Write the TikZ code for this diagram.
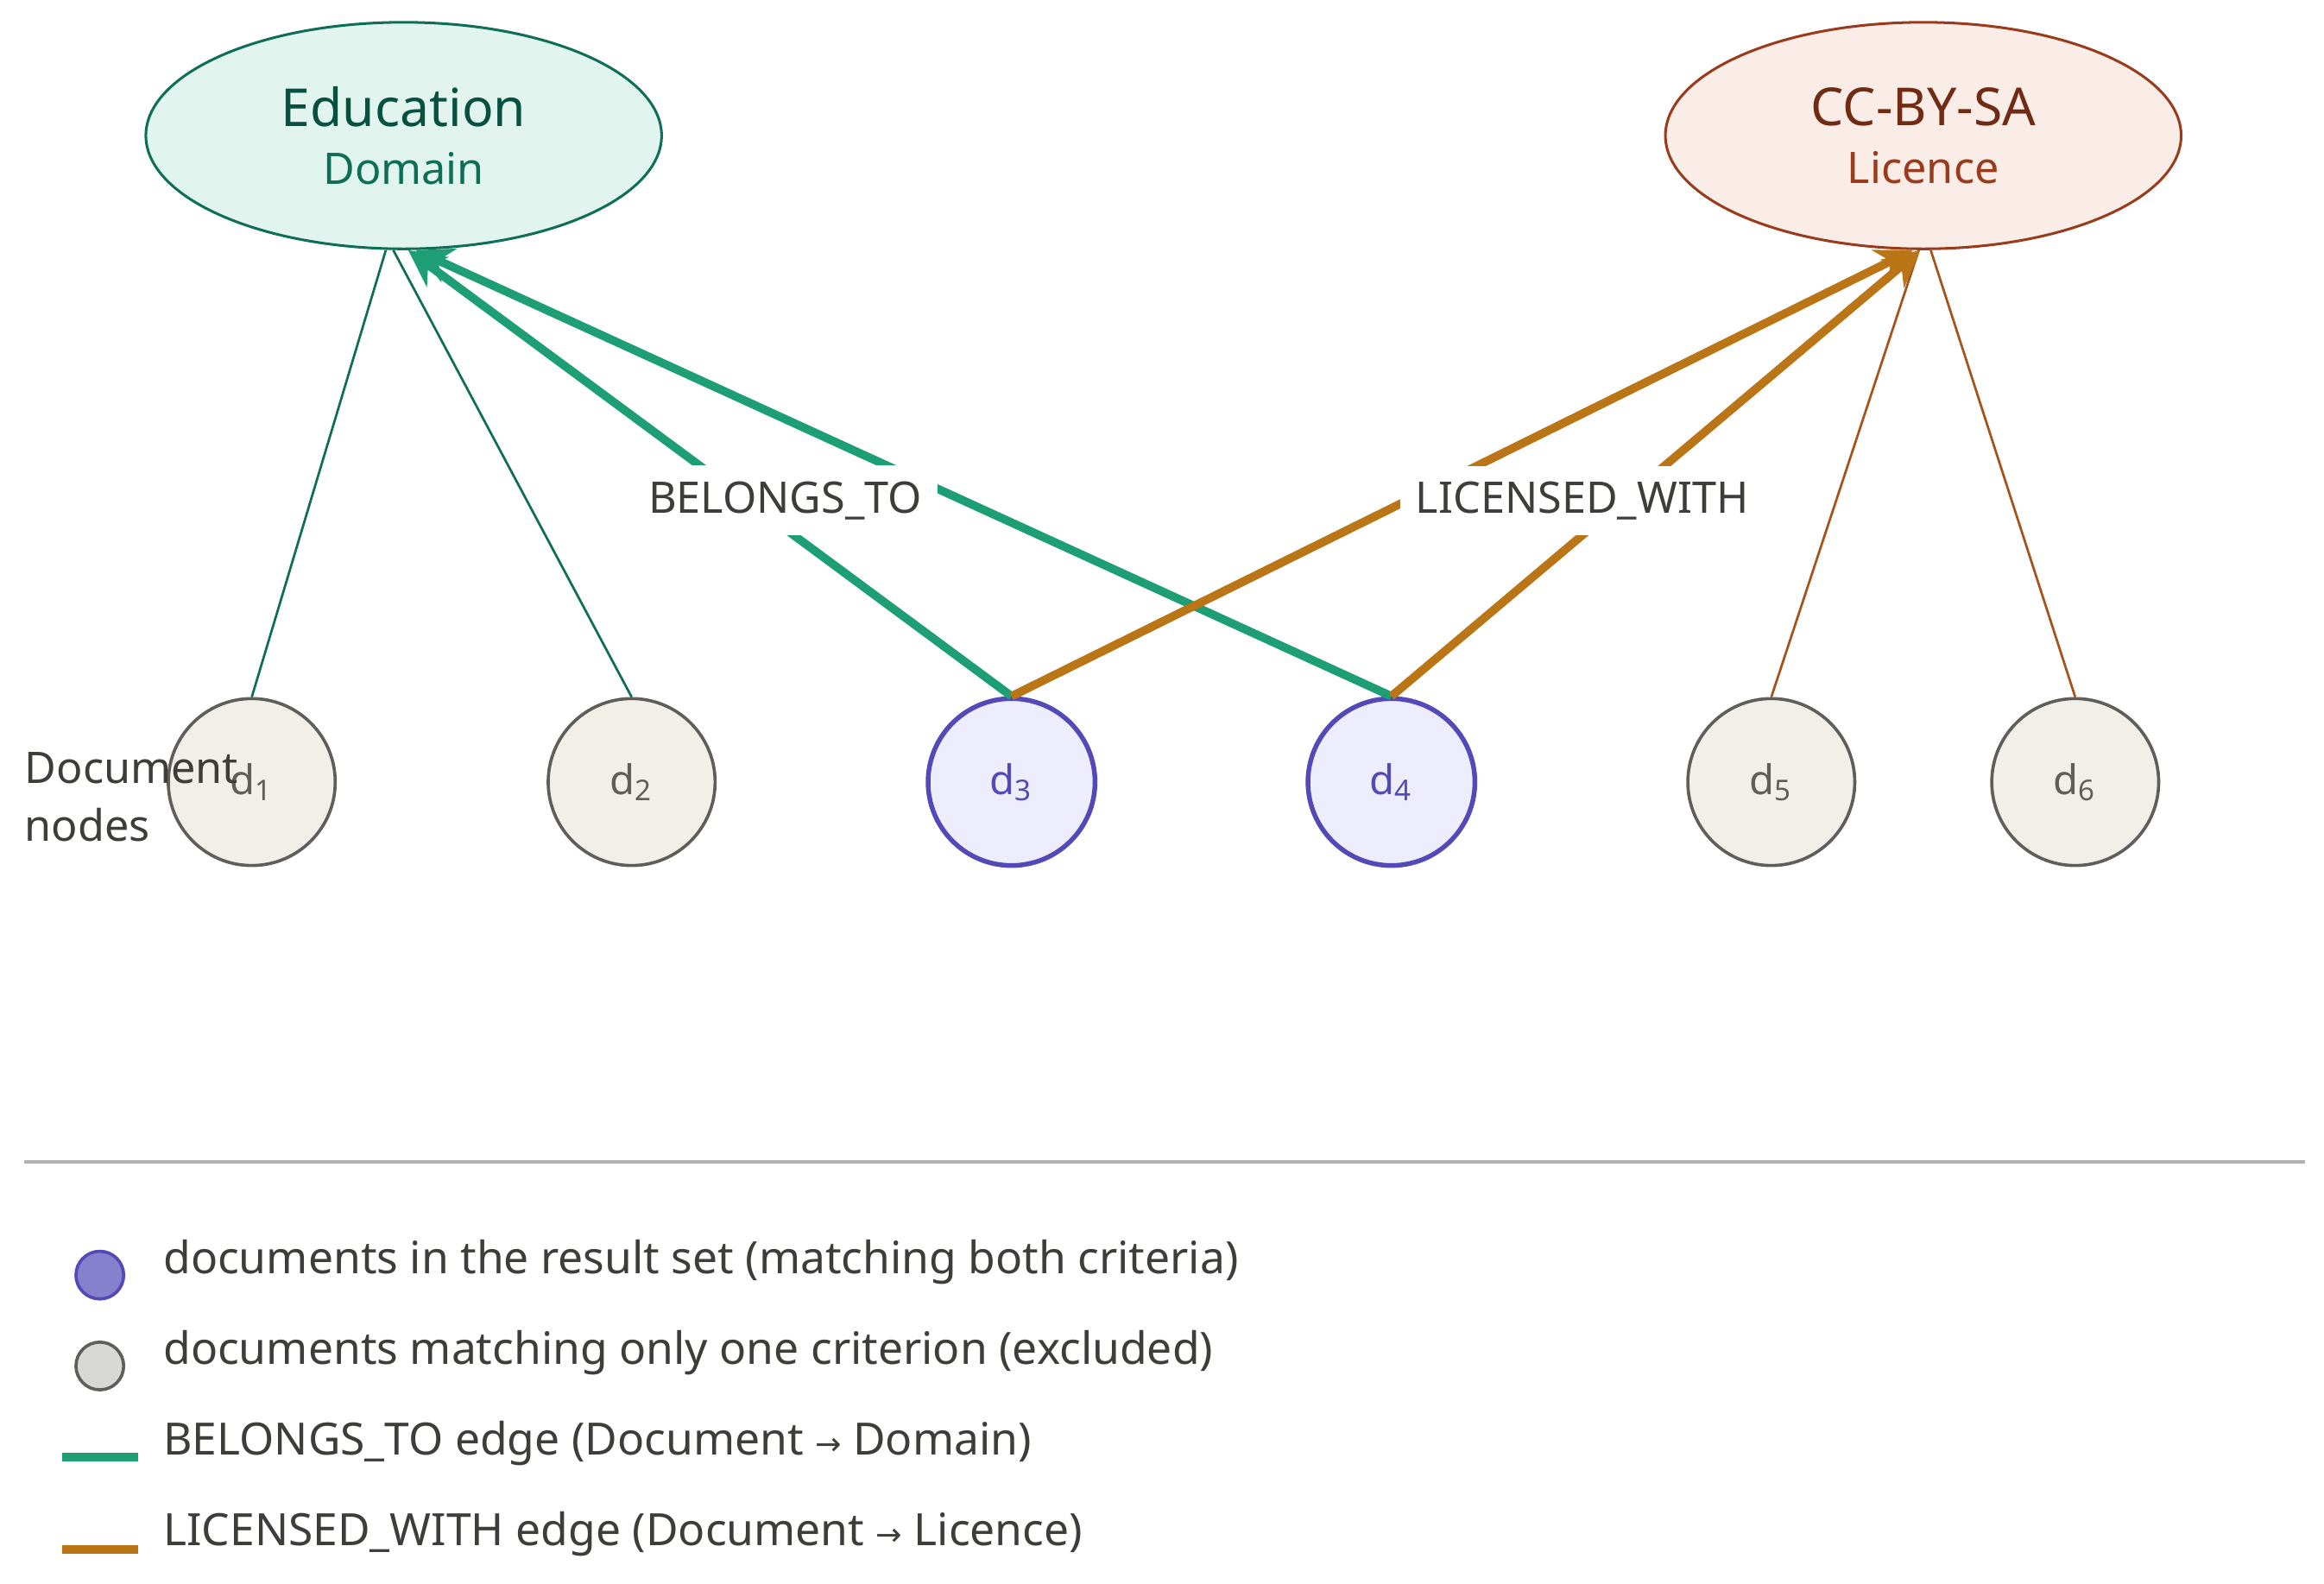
\documentclass[tikz,border=0pt]{standalone}
\usepackage{fontspec}
\setmainfont{Noto Sans}
\newfontfamily\symfont{DejaVu Sans}
\usetikzlibrary{arrows.meta}
\usetikzlibrary{shapes.geometric}
\usetikzlibrary{positioning}

\definecolor{domfill}{HTML}{E1F5EE}
\definecolor{domline}{HTML}{0F6E56}
\definecolor{domtext}{HTML}{085041}
\definecolor{licfill}{HTML}{FAECE7}
\definecolor{licline}{HTML}{993C1D}
\definecolor{lictext}{HTML}{712B13}
\definecolor{docfill}{HTML}{F1EFE8}
\definecolor{docline}{HTML}{5F5E5A}
\definecolor{hitfill}{HTML}{EEEDFE}
\definecolor{hitline}{HTML}{534AB7}
\definecolor{belongs}{HTML}{1D9E75}
\definecolor{licensed}{HTML}{BA7517}
\definecolor{ink}{HTML}{3D3D3A}

\newcommand{\toarrow}{{\symfont\fontsize{6}{9}\selectfont →}}

\tikzset{
  entity/.style={draw,ellipse,minimum width=3.46cm,minimum height=1.52cm,line width=0.5pt,align=center,inner sep=0pt},
  doc/.style={draw=docline,fill=docfill,circle,minimum size=1.12cm,line width=0.6pt,text=docline,font=\fontsize{7.8}{9}\selectfont},
  hit/.style={doc,draw=hitline,fill=hitfill,text=hitline,line width=0.9pt},
  faint/.style={line width=0.45pt},
  rel/.style={line width=1.6pt,-{Stealth[length=7pt,width=7pt]}},
  tag/.style={fill=white,text=ink,font=\fontsize{8.3}{9}\selectfont,inner sep=3pt},
  legend/.style={text=ink,font=\fontsize{8.5}{9}\selectfont,anchor=west,inner sep=0pt}
}

\begin{document}
\begin{tikzpicture}[x=0.01cm,y=-0.01cm]
  \useasboundingbox (0,0) rectangle (1560,1063);

  % top entities
  \node [entity,draw=domline,fill=domfill] (Dom) at (271,91)
    {\textcolor{domtext}{\fontsize{10}{11}\selectfont Education}\\[-1pt]
     \textcolor{domline}{\fontsize{8.3}{9}\selectfont Domain}};
  \node [entity,draw=licline,fill=licfill] (Lic) at (1291,91)
    {\textcolor{lictext}{\fontsize{10}{11}\selectfont CC-BY-SA}\\[-1pt]
     \textcolor{licline}{\fontsize{8.3}{9}\selectfont Licence}};

  % document nodes
  \node [doc] (d1) at (169,525) {d\textsubscript{1}};
  \node [doc] (d2) at (424,525) {d\textsubscript{2}};
  \node [hit] (d3) at (679,525) {d\textsubscript{3}};
  \node [hit] (d4) at (934,525) {d\textsubscript{4}};
  \node [doc] (d5) at (1189,525) {d\textsubscript{5}};
  \node [doc] (d6) at (1393,525) {d\textsubscript{6}};

  \node [text=ink,font=\fontsize{8.3}{11}\selectfont,align=left,anchor=west,inner sep=0pt] (cap) at (16,535) {Document\\nodes};

  % excluded edges
  \draw [faint,domline] (d1.north) -- ([xshift=-0.12cm]Dom.south);
  \draw [faint,domline] (d2.north) -- ([xshift=-0.07cm]Dom.south);
  \draw [faint,licline!60!licensed] (d5.north) -- ([xshift=-0.03cm]Lic.south);
  \draw [faint,licline!60!licensed] (d6.north) -- ([xshift=0.05cm]Lic.south);

  % matching edges
  \draw [rel,belongs] (d3.north) -- ([xshift=0.03cm]Dom.south);
  \draw [rel,belongs] (d4.north) -- ([xshift=0.08cm]Dom.south);
  \draw [rel,licensed] (d3.north) -- ([xshift=-0.07cm]Lic.south);
  \draw [rel,licensed] (d4.north) -- ([xshift=-0.02cm]Lic.south);

  \node [tag] (tBel) at (527,336) {BELONGS\_TO};
  \node [tag] (tLic) at (1062,336) {LICENSED\_WITH};

  % legend
  \coordinate (sepL) at (16,780);
  \coordinate (sepR) at (1547,780);
  \draw [black!30,line width=0.6pt] (sepL) -- (sepR);

  \node [circle,draw=hitline,fill=hitline!70,minimum size=0.32cm,inner sep=0pt,line width=0.6pt] (kHit) at (67,856) {};
  \node [legend] (lHit) at (109,847) {documents in the result set (matching both criteria)};
  \node [circle,draw=docline,fill=docline!25,minimum size=0.32cm,inner sep=0pt,line width=0.6pt] (kDoc) at (67,917) {};
  \node [legend] (lDoc) at (109,908) {documents matching only one criterion (excluded)};
  \coordinate (kBelA) at (42,978);
  \coordinate (kBelB) at (93,978);
  \draw [belongs,line width=1.6pt] (kBelA) -- (kBelB);
  \node [legend] (lBel) at (109,969) {BELONGS\_TO edge (Document \toarrow{} Domain)};
  \coordinate (kLicA) at (42,1040);
  \coordinate (kLicB) at (93,1040);
  \draw [licensed,line width=1.6pt] (kLicA) -- (kLicB);
  \node [legend] (lLic) at (109,1030) {LICENSED\_WITH edge (Document \toarrow{} Licence)};
\end{tikzpicture}
\end{document}
